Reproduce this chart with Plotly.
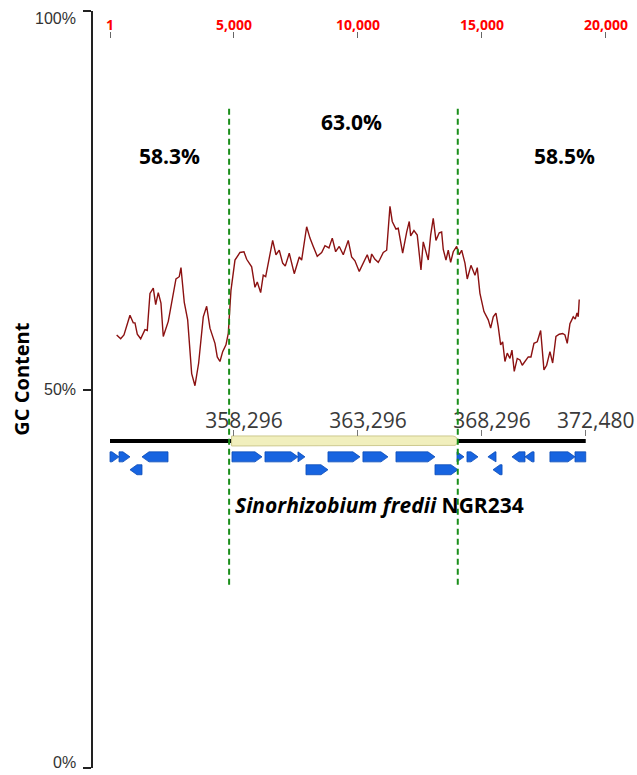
import numpy as np
import plotly.graph_objects as go

# ---- data -------------------------------------------------------------
# sliding-window GC content along the fragment (relative bp, percent)
gc_pos = [270, 431, 564, 645, 806, 939, 1008, 1101, 1238, 1411, 1504, 1613, 1746, 1843, 1947,
          2056, 2149, 2351, 2528, 2661, 2794, 2863, 2996, 3133, 3294, 3427, 3576, 3762, 3899,
          4032, 4234, 4326, 4435, 4544, 4677, 4770, 4879, 5040, 5242, 5403, 5512, 5713, 5846,
          5939, 6076, 6181, 6278, 6411, 6560, 6693, 6826, 6963, 7068, 7229, 7431, 7633, 7729,
          7931, 8064, 8197, 8358, 8536, 8669, 8830, 8963, 9100, 9245, 9407, 9608, 9745, 9878,
          10052, 10213, 10374, 10483, 10552, 10685, 10818, 10886, 11020, 11157, 11290, 11382,
          11532, 11624, 11802, 11963, 12068, 12124, 12257, 12390, 12540, 12632, 12741, 12834,
          12931, 13035, 13144, 13277, 13374, 13439, 13548, 13640, 13737, 13842, 13979, 14084,
          14181, 14314, 14406, 14487, 14556, 14717, 14810, 14918, 15080, 15253, 15350, 15455,
          15564, 15656, 15753, 15834, 15926, 16019, 16128, 16209, 16301, 16422, 16531, 16624,
          16761, 16866, 16975, 17096, 17229, 17366, 17499, 17608, 17741, 17850, 17983, 18116,
          18253, 18346, 18438, 18547, 18680, 18761, 18832, 18882, 18922]
gc_val = [57.2, 56.7, 57.2, 58.1, 59.8, 58.8, 58.8, 57.3, 56.7, 57.9, 57.8, 62.7, 63.4, 61.2, 62.8,
          61.4, 57.0, 59.0, 62.3, 64.6, 64.9, 66.1, 61.5, 59.2, 52.1, 50.5, 53.5, 59.6, 61.0,
          58.1, 56.1, 54.3, 53.7, 55.0, 55.9, 57.4, 63.1, 67.1, 68.1, 68.2, 67.2, 66.2, 63.5,
          64.2, 62.8, 65.1, 64.9, 67.1, 69.7, 67.8, 68.4, 66.7, 66.3, 68.0, 65.3, 67.5, 67.1,
          71.5, 70.0, 68.9, 67.6, 68.1, 69.0, 68.7, 70.0, 68.2, 68.9, 67.8, 69.7, 67.5, 67.0,
          65.6, 66.7, 67.8, 66.7, 67.9, 67.2, 66.8, 67.2, 68.1, 68.4, 74.2, 72.2,
          71.2, 71.3, 68.0, 70.8, 72.2, 70.3, 71.0, 70.4, 65.8, 69.5, 68.0, 67.1,
          70.4, 72.6, 69.7, 70.7, 70.8, 68.5, 67.1, 68.4, 66.8, 68.2, 68.9, 67.8,
          68.4, 66.7, 64.6, 65.6, 66.4, 65.1, 66.1, 62.7, 60.3, 59.2, 58.1, 59.6,
          60.1, 58.3, 55.9, 56.3, 53.7, 54.8, 54.1, 55.2, 52.4, 54.1, 53.9, 53.2,
          53.9, 54.3, 54.3, 56.1, 56.3, 57.8, 52.6, 53.2, 55.0, 53.5, 57.0, 57.3,
          57.4, 57.2, 56.1, 58.7, 59.6, 59.3, 60.1, 59.6, 61.9]

# relative coordinate ruler
ruler_ticks = [1, 5000, 10000, 15000, 20000]
ruler_text = ["1", "5,000", "10,000", "15,000", "20,000"]

# genomic coordinates of the fragment
genome_offset = 353296
genome_start, genome_end = 353297, 372480
genome_ticks = [358296, 363296, 368296, 372480]
genome_name = "<i>Sinorhizobium fredii</i> NGR234"

# genomic island borders
island_start, island_end = 358100, 367320

# GC content of the three regions (left flank, island, right flank)
region_gc = [58.3, 63.0, 58.5]
region_pos = [2380, 9757, 18346]

# annotated genes (genomic start, end, strand, lane)
gene_start = [353297, 353660, 354587, 354103, 358216, 359546, 360876, 361199, 362086, 363496,
              364828, 366401, 367288, 367691, 368536, 369506, 370031, 371036, 372046, 368741]
gene_end = [353660, 354103, 355636, 354587, 359426, 360876, 361159, 362086, 363376, 364506,
            366401, 367328, 367571, 368136, 368861, 370031, 370396, 372046, 372480, 369106]
gene_strand = ["+", "+", "-", "-", "+", "+", "+", "+", "+", "+",
               "+", "+", "+", "+", "-", "-", "-", "+", ".", "-"]
gene_lane = [1, 1, 1, 2, 1, 1, 1, 2, 1, 1, 1, 2, 1, 1, 1, 1, 1, 1, 1, 2]

# ---- layout constants --------------------------------------------------
W, H = 637, 775
ML, MR, MT, MB = 93, 0, 11, 7
bp_per_px = 5000 / 124.0
x0_rel = 1 - (110 - ML) * bp_per_px
x1_rel = x0_rel + (W - ML - MR) * bp_per_px
plot_h = H - MT - MB
pct_per_px = 100.0 / plot_h

track_y = 43.2                      # genome backbone
lane_y = {1: 41.1, 2: 39.4}         # gene lanes
half_h = 5 * pct_per_px
head_bp = 7 * bp_per_px

fig = go.Figure()

# GC content curve
fig.add_trace(go.Scatter(x=gc_pos, y=gc_val, mode="lines",
                         line=dict(color="#8b1111", width=1.4),
                         hoverinfo="skip", showlegend=False))

# genome backbone
fig.add_trace(go.Scatter(x=[genome_start, genome_end], y=[track_y, track_y], mode="lines",
                         line=dict(color="black", width=4), xaxis="x2", yaxis="y",
                         hoverinfo="skip", showlegend=False))

# island bar with rounded end
r_bp = 5 * bp_per_px
bar_x0 = island_start + 100
t = np.linspace(-np.pi / 2, np.pi / 2, 20)
bx = [bar_x0] + list(island_end - r_bp + r_bp * np.cos(t)) + [bar_x0, bar_x0]
by = [track_y - half_h] + list(track_y + half_h * np.sin(t)) + [track_y + half_h, track_y - half_h]
fig.add_trace(go.Scatter(x=bx, y=by, mode="lines", fill="toself", fillcolor="#f1efbd",
                         line=dict(color="#cdc98f", width=1), xaxis="x2", yaxis="y",
                         hoverinfo="skip", showlegend=False))

# gene arrows
gx, gy = [], []
for s, e, strand, lane in zip(gene_start, gene_end, gene_strand, gene_lane):
    yc = lane_y[lane]
    top, bot = yc + half_h, yc - half_h
    if strand == "+":
        if e - s <= head_bp:
            px, py = [s, e, s, s], [top, yc, bot, top]
        else:
            px = [s, e - head_bp, e, e - head_bp, s, s]
            py = [top, top, yc, bot, bot, top]
    elif strand == "-":
        if e - s <= head_bp:
            px, py = [e, s, e, e], [top, yc, bot, top]
        else:
            px = [e, s + head_bp, s, s + head_bp, e, e]
            py = [top, top, yc, bot, bot, top]
    else:
        px, py = [s, e, e, s, s], [top, top, bot, bot, top]
    gx += px + [None]
    gy += py + [None]
fig.add_trace(go.Scatter(x=gx, y=gy, mode="lines", fill="toself", fillcolor="#1764e0",
                         line=dict(color="#0d4cb8", width=0.8), xaxis="x2", yaxis="y",
                         hoverinfo="skip", showlegend=False))

# island borders
for xb in (island_start, island_end):
    fig.add_shape(type="line", xref="x2", yref="y", x0=xb, x1=xb, y0=24.2, y1=87.2,
                  line=dict(color="#1a8f1a", width=2, dash="6px,4px"), layer="above")

# region GC labels
region_y = [80.8, 85.3, 80.8]
for v, xp, yp in zip(region_gc, region_pos, region_y):
    fig.add_annotation(x=xp, y=yp, xref="x", yref="y", text=f"{v:.1f}%", showarrow=False,
                       font=dict(family="Open Sans", size=21, color="black", weight="bold"))

# organism label
fig.add_annotation(x=358256, y=34.7, xref="x2", yref="y", text=genome_name, showarrow=False,
                   xanchor="left", font=dict(family="Open Sans", size=21, color="black", weight="bold"))

# y-axis tick labels
for val, ys in zip([100, 50, 0], [-7, 0, 6]):
    fig.add_annotation(x=0, y=val, xref="paper", yref="y", text=f"{val}%", showarrow=False,
                       xanchor="right", xshift=-15, yshift=ys,
                       font=dict(family="Liberation Sans Narrow, Liberation Sans", size=16, color="#333"))

# y-axis title
fig.add_annotation(x=(22 - ML) / (W - ML - MR), y=51.3, xref="paper", yref="y",
                   text="GC Content", textangle=-90, showarrow=False,
                   xanchor="center", yanchor="middle",
                   font=dict(family="Open Sans", size=20, color="black", weight="bold"))

fig.update_layout(
    width=W, height=H,
    margin=dict(l=ML, r=MR, t=MT, b=MB),
    paper_bgcolor="white", plot_bgcolor="white",
    showlegend=False,
    xaxis=dict(range=[x0_rel, x1_rel], anchor="free", position=(H - MB - 38) / plot_h,
               side="top", ticks="outside", ticklen=6, tickcolor="#666", tickwidth=1,
               tickvals=ruler_ticks, ticktext=ruler_text, showline=False, showgrid=False,
               zeroline=False, ticklabelstandoff=-4,
               tickfont=dict(family="Open Sans", size=14, color="#ff0000", weight="bold")),
    xaxis2=dict(range=[x0_rel + genome_offset, x1_rel + genome_offset], overlaying="x",
                anchor="free", position=(H - MB - 436) / plot_h, side="top",
                ticks="outside", ticklen=6, tickcolor="#777", tickwidth=1,
                tickvals=genome_ticks, ticktext=[f"{v:,}" for v in genome_ticks],
                ticklabelshift=10, ticklabelstandoff=-6, showline=False, showgrid=False,
                zeroline=False,
                tickfont=dict(family="Open Sans", size=21, color="#3a3a3a")),
    yaxis=dict(range=[0, 100], domain=[0, 1], showline=True, linecolor="#222", linewidth=1.5,
               ticks="outside", ticklen=8, tickcolor="#222", tickwidth=1.5,
               tickvals=[0, 50, 100], showticklabels=False, showgrid=False, zeroline=False),
)

fig.write_html("out.html")
